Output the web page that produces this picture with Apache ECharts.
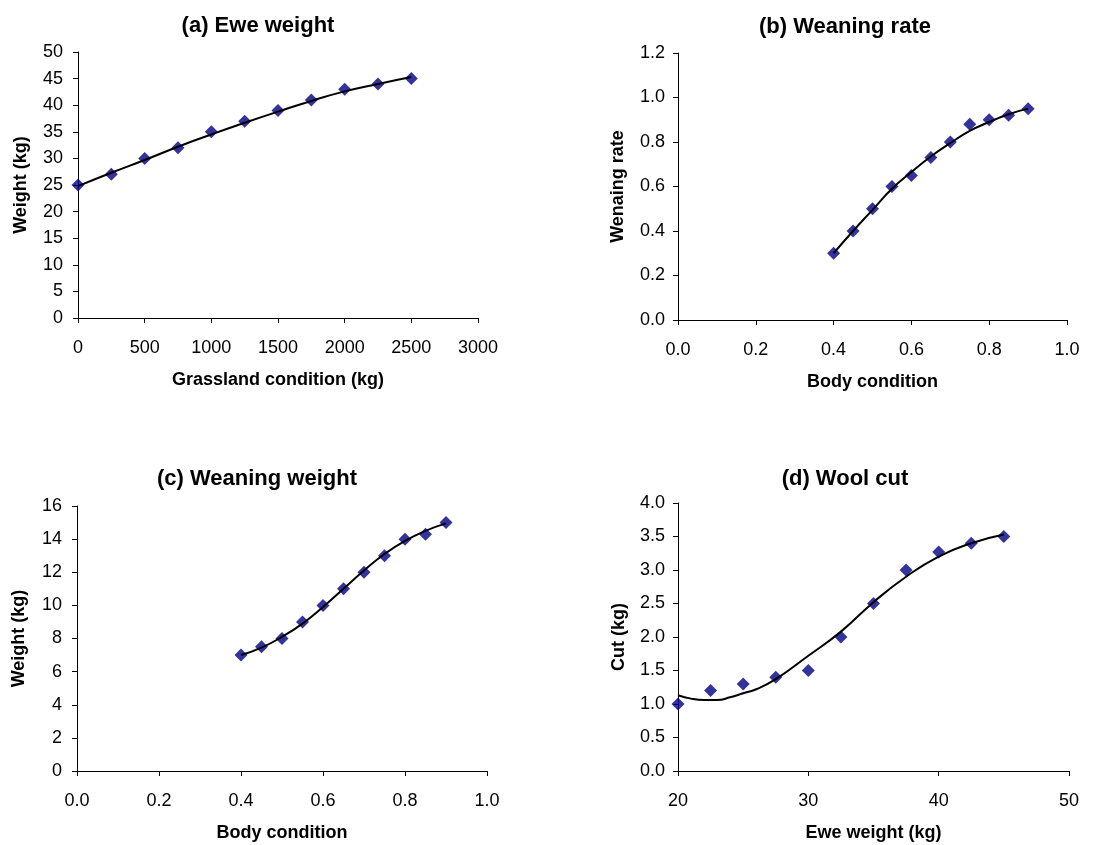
<!DOCTYPE html>
<html>
<head>
<meta charset="utf-8">
<script src="https://cdn.jsdelivr.net/npm/echarts@6/dist/echarts.min.js"></script>
<style>html,body{margin:0;padding:0;background:#fff}#c{width:1105px;height:845px}</style>
</head>
<body>
<div id="c"></div>
<script>
// (a) Ewe weight
const aX = [0, 250, 500, 750, 1000, 1250, 1500, 1750, 2000, 2250, 2500];
const aPts = [25, 27, 30, 32, 35, 37, 39, 41, 43, 44, 45];
const aFit = [24.8, 27.3, 29.7, 32.2, 34.5, 36.7, 38.8, 40.8, 42.6, 44.0, 45.3];
// (b) Weaning rate
const bX = [0.4, 0.45, 0.5, 0.55, 0.6, 0.65, 0.7, 0.75, 0.8, 0.85, 0.9];
const bPts = [0.30, 0.40, 0.50, 0.60, 0.65, 0.73, 0.80, 0.88, 0.90, 0.92, 0.95];
const bFit = [0.30, 0.40, 0.495, 0.59, 0.665, 0.735, 0.795, 0.85, 0.89, 0.925, 0.95];
// (c) Weaning weight
const cX = [0.4, 0.45, 0.5, 0.55, 0.6, 0.65, 0.7, 0.75, 0.8, 0.85, 0.9];
const cPts = [7.0, 7.5, 8.0, 9.0, 10.0, 11.0, 12.0, 13.0, 14.0, 14.3, 15.0];
const cFit = [7.0, 7.45, 8.1, 8.9, 9.9, 11.0, 12.1, 13.1, 13.9, 14.5, 14.95];
// (d) Wool cut
const dX = [20, 22.5, 25, 27.5, 30, 32.5, 35, 37.5, 40, 42.5, 45];
const dPts = [1.0, 1.2, 1.3, 1.4, 1.5, 2.0, 2.5, 3.0, 3.27, 3.4, 3.5];
const dFitX = [20, 21, 22, 23, 24, 25, 26, 27.5, 30, 32.5, 35, 37.5, 40, 42.5, 45];
const dFitY = [1.13, 1.08, 1.06, 1.06, 1.10, 1.16, 1.22, 1.37, 1.72, 2.08, 2.52, 2.90, 3.20, 3.40, 3.53];

const titles = ['(a) Ewe weight', '(b) Weaning rate', '(c) Weaning weight', '(d) Wool cut'];
const xNames = ['Grassland condition (kg)', 'Body condition', 'Body condition', 'Ewe weight (kg)'];
const yNames = ['Weight (kg)', 'Wenaing rate', 'Weight (kg)', 'Cut (kg)'];

const FONT = '"Liberation Sans", Arial, sans-serif';
const zip = (xs, ys) => xs.map((x, i) => [x, ys[i]]);

const grids = [
  {left: 78, top: 52, width: 400, height: 266},
  {left: 678, top: 53, width: 389, height: 267},
  {left: 77, top: 506, width: 410, height: 265},
  {left: 678, top: 503, width: 391, height: 268}
];
const xRanges = [[0, 3000, 500, 0], [0, 1, 0.2, 1], [0, 1, 0.2, 1], [20, 50, 10, 0]];
const yRanges = [[0, 50, 5, 0], [0, 1.2, 0.2, 1], [0, 16, 2, 0], [0, 4, 0.5, 1]];
const yGaps = [48, 51, 49, 50];
const yMargins = [15, 13, 15, 13];

const axisCommon = {
  splitLine: {show: false},
  axisLine: {show: true, onZero: false, lineStyle: {color: '#000', width: 1}},
  axisTick: {show: true, inside: false, length: 5, lineStyle: {color: '#000'}},
  nameLocation: 'middle',
  nameTextStyle: {fontFamily: FONT, fontWeight: 'bold', fontSize: 18, color: '#000'}
};

const xAxis = xRanges.map((r, i) => Object.assign({}, axisCommon, {
  type: 'value', gridIndex: i, min: r[0], max: r[1], interval: r[2],
  name: xNames[i], nameGap: 53,
  axisLabel: {fontFamily: FONT, fontSize: 18, color: '#000', margin: 21,
    formatter: v => v.toFixed(r[3])}
}));
const yAxis = yRanges.map((r, i) => Object.assign({}, axisCommon, {
  type: 'value', gridIndex: i, min: r[0], max: r[1], interval: r[2],
  name: yNames[i], nameGap: yGaps[i],
  axisLabel: {fontFamily: FONT, fontSize: 18, color: '#000', margin: yMargins[i],
    formatter: v => v.toFixed(r[3])}
}));

const titleCfg = [
  {left: 253, top: 10}, {left: 840, top: 11}, {left: 252, top: 463}, {left: 840, top: 463}
];
const title = titles.map((t, i) => ({
  text: t, left: titleCfg[i].left, top: titleCfg[i].top, textAlign: 'center',
  textStyle: {fontFamily: FONT, fontWeight: 'bold', fontSize: 22, color: '#000'}
}));

const pts = [zip(aX, aPts), zip(bX, bPts), zip(cX, cPts), zip(dX, dPts)];
const fits = [zip(aX, aFit), zip(bX, bFit), zip(cX, cFit), zip(dFitX, dFitY)];

const series = [];
for (let i = 0; i < 4; i++) {
  series.push({
    type: 'scatter', xAxisIndex: i, yAxisIndex: i, data: pts[i],
    symbol: 'diamond', symbolSize: 13, itemStyle: {color: '#000080'}, z: 2
  });
  series.push({
    type: 'line', xAxisIndex: i, yAxisIndex: i, data: fits[i],
    smooth: true, showSymbol: false, lineStyle: {color: '#000', width: 2}, z: 3
  });
}

const chart = echarts.init(document.getElementById('c'), null, {renderer: 'canvas'});
chart.setOption({
  backgroundColor: '#fff', animation: false,
  title, grid: grids, xAxis, yAxis, series
});
</script>
</body>
</html>
